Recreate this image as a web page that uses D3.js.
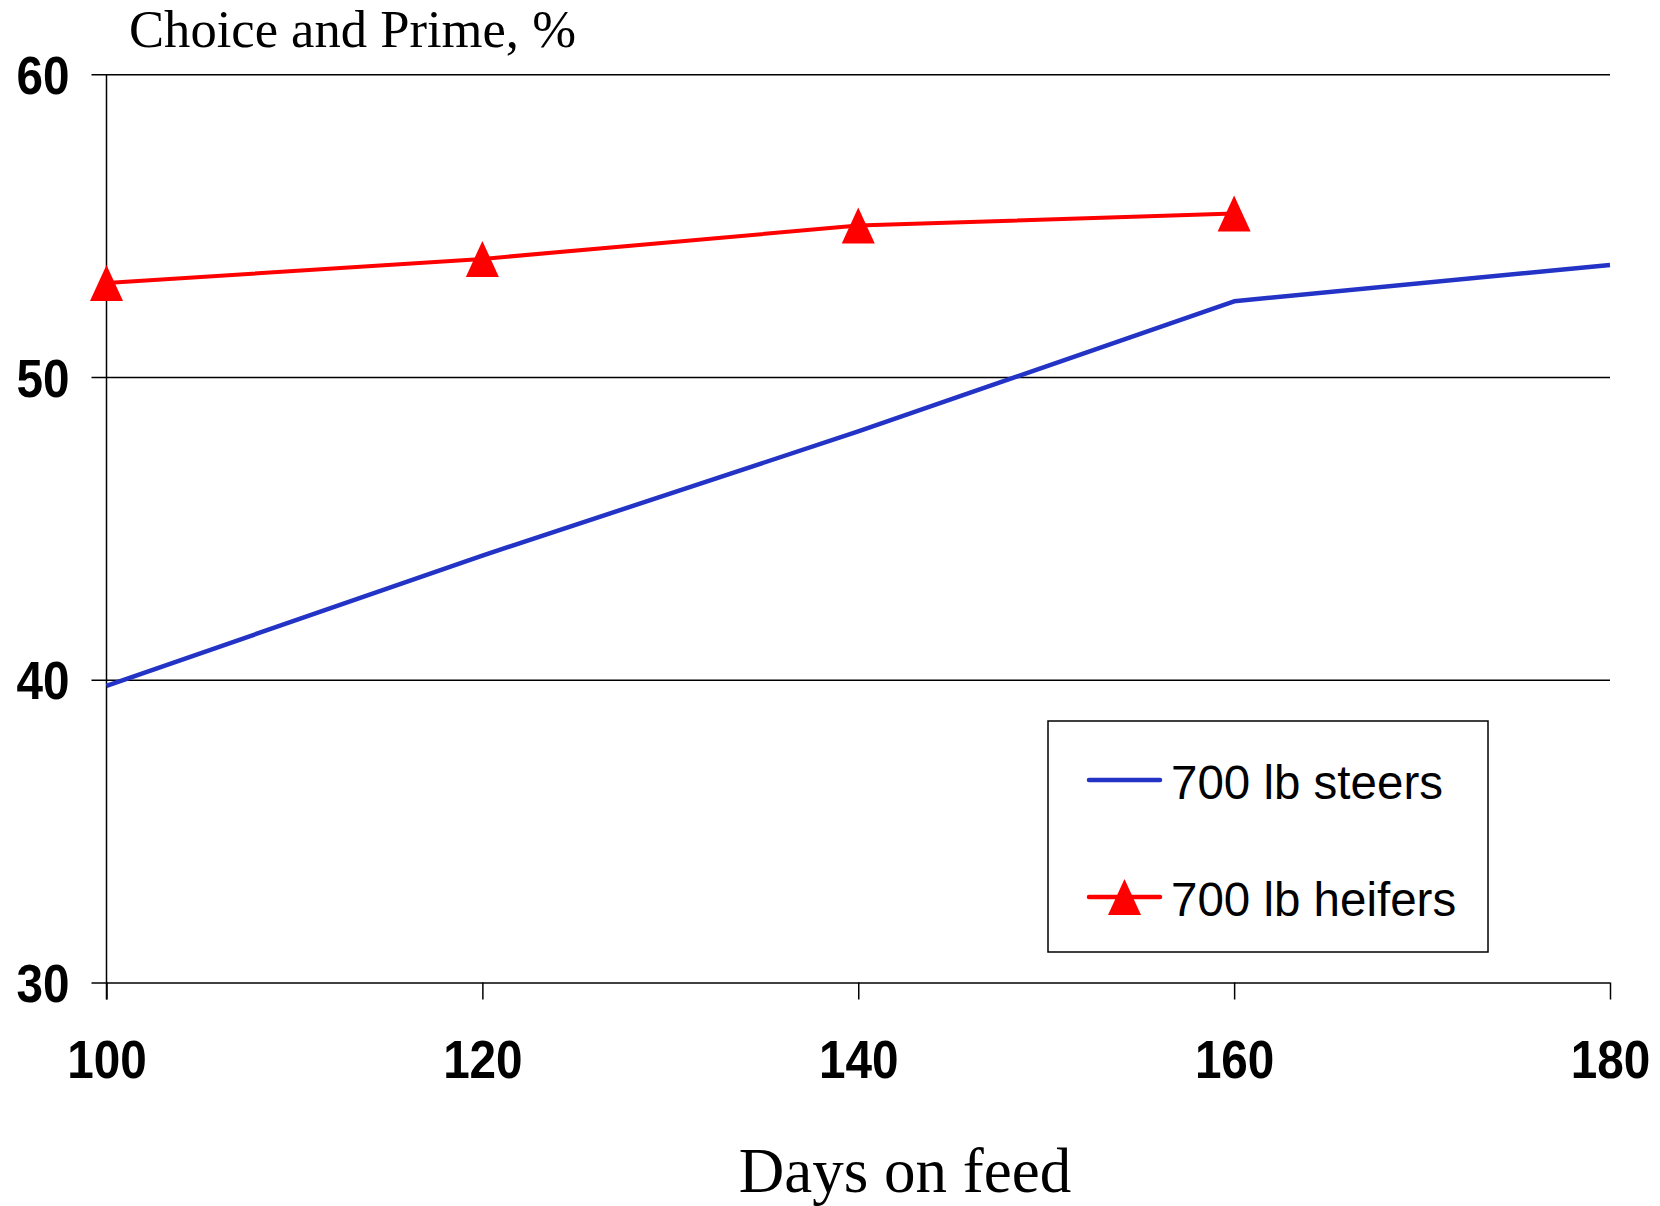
<!DOCTYPE html>
<html>
<head>
<meta charset="utf-8">
<script src="https://cdn.jsdelivr.net/npm/d3@7"></script>
<style>
  body { margin: 0; background: #fff; }
  svg { display: block; }
</style>
</head>
<body>
<div class="canvas"></div>
<script>
// data
const days = [100, 120, 140, 160, 180];
const steers = [39.8, 44.1, 48.2, 52.5, 53.7];
const heiferDays = [100, 120, 140, 160];
const heifers = [53.1, 53.9, 55.0, 55.4];
const yTicks = [30, 40, 50, 60];
const seriesNames = ['700 lb steers', '700 lb heifers'];

const dims = {width: 1660, height: 1206};
const plot = {left: 106.5, right: 1610, top: 74.2, bottom: 982.5};
const blue = '#2233c6';
const red = '#ff0000';

const svg = d3.select('.canvas')
    .append('svg')
    .attr('width', dims.width)
    .attr('height', dims.height);

const x = d3.scaleLinear().domain([100, 180]).range([plot.left, plot.right]);
const y = d3.scaleLinear().domain([30, 60]).range([plot.bottom, plot.top]);

// tick labels look condensed in the original, squeeze them a bit
const squeeze = sel => sel
    .attr('font-family', 'Liberation Sans, Arial, sans-serif')
    .attr('font-weight', 'bold')
    .attr('font-size', 53)
    .attr('fill', '#000')
    .attr('lengthAdjust', 'spacingAndGlyphs')
    .attr('textLength', d => String(d).length * 26.5);

// gridlines + y ticks
const yAxis = d3.axisLeft(y)
    .tickValues(yTicks)
    .tickSize(-(plot.right - plot.left))
    .tickSizeOuter(0)
    .tickFormat(d3.format('d'));

const yG = svg.append('g')
    .attr('transform', `translate(${plot.left}, 0)`)
    .call(yAxis);
yG.select('.domain').remove();
yG.selectAll('.tick line')
    .attr('x1', -15)
    .attr('stroke', '#000')
    .attr('stroke-width', 1.5);
yG.selectAll('.tick text')
    .attr('x', -37)
    .attr('dy', '0.36em')
    .call(squeeze);

// x axis
const xAxis = d3.axisBottom(x)
    .tickValues(days)
    .tickSize(17)
    .tickSizeOuter(0)
    .tickFormat(d3.format('d'));

const xG = svg.append('g')
    .attr('transform', `translate(0, ${plot.bottom})`)
    .call(xAxis);
xG.select('.domain').remove();
xG.selectAll('.tick line').attr('stroke', '#000').attr('stroke-width', 1.5);
xG.selectAll('.tick text')
    .attr('y', 95)
    .attr('dy', 0)
    .call(squeeze);

// y axis line
svg.append('line')
    .attr('x1', plot.left).attr('x2', plot.left)
    .attr('y1', plot.top).attr('y2', plot.bottom + 17)
    .attr('stroke', '#000')
    .attr('stroke-width', 1.5);

// lines
const line = d3.line()
    .x(d => x(d[0]))
    .y(d => y(d[1]));

svg.append('path')
    .datum(days.map((d, i) => [d, steers[i]]))
    .attr('d', line)
    .attr('fill', 'none')
    .attr('stroke', blue)
    .attr('stroke-width', 4.5)
    .attr('stroke-linejoin', 'round');

svg.append('path')
    .datum(heiferDays.map((d, i) => [d, heifers[i]]))
    .attr('d', line)
    .attr('fill', 'none')
    .attr('stroke', red)
    .attr('stroke-width', 4)
    .attr('stroke-linejoin', 'round');

const tri = 'M0,-18L16.5,18L-16.5,18Z';

svg.selectAll('.marker')
    .data(heiferDays.map((d, i) => [d, heifers[i]]))
    .enter()
    .append('path')
    .attr('class', 'marker')
    .attr('d', tri)
    .attr('transform', d => `translate(${x(d[0])}, ${y(d[1])})`)
    .attr('fill', red);

// titles
svg.append('text')
    .attr('x', 129)
    .attr('y', 47)
    .attr('font-family', 'Liberation Serif, Times New Roman, serif')
    .attr('font-size', 52.6)
    .text('Choice and Prime, %');

svg.append('text')
    .attr('x', 905)
    .attr('y', 1192)
    .attr('text-anchor', 'middle')
    .attr('font-family', 'Liberation Serif, Times New Roman, serif')
    .attr('font-size', 63)
    .text('Days on feed');

// legend
const legend = svg.append('g');
legend.append('rect')
    .attr('x', 1048).attr('y', 721)
    .attr('width', 440).attr('height', 231)
    .attr('fill', '#fff')
    .attr('stroke', '#000')
    .attr('stroke-width', 1.5);

const legendRows = [
    {name: seriesNames[0], color: blue, y: 780, marker: false},
    {name: seriesNames[1], color: red, y: 897, marker: true}
];

const rows = legend.selectAll('.row')
    .data(legendRows)
    .enter()
    .append('g')
    .attr('class', 'row')
    .attr('transform', d => `translate(0, ${d.y})`);

rows.append('line')
    .attr('x1', 1089).attr('x2', 1160)
    .attr('stroke', d => d.color)
    .attr('stroke-width', 4.5)
    .attr('stroke-linecap', 'round');

rows.filter(d => d.marker)
    .append('path')
    .attr('d', tri)
    .attr('transform', 'translate(1124.5, 0)')
    .attr('fill', red);

rows.append('text')
    .attr('x', 1171)
    .attr('y', 19)
    .attr('font-family', 'Liberation Sans, Arial, sans-serif')
    .attr('font-size', 47.5)
    .text(d => d.name);
</script>
</body>
</html>
